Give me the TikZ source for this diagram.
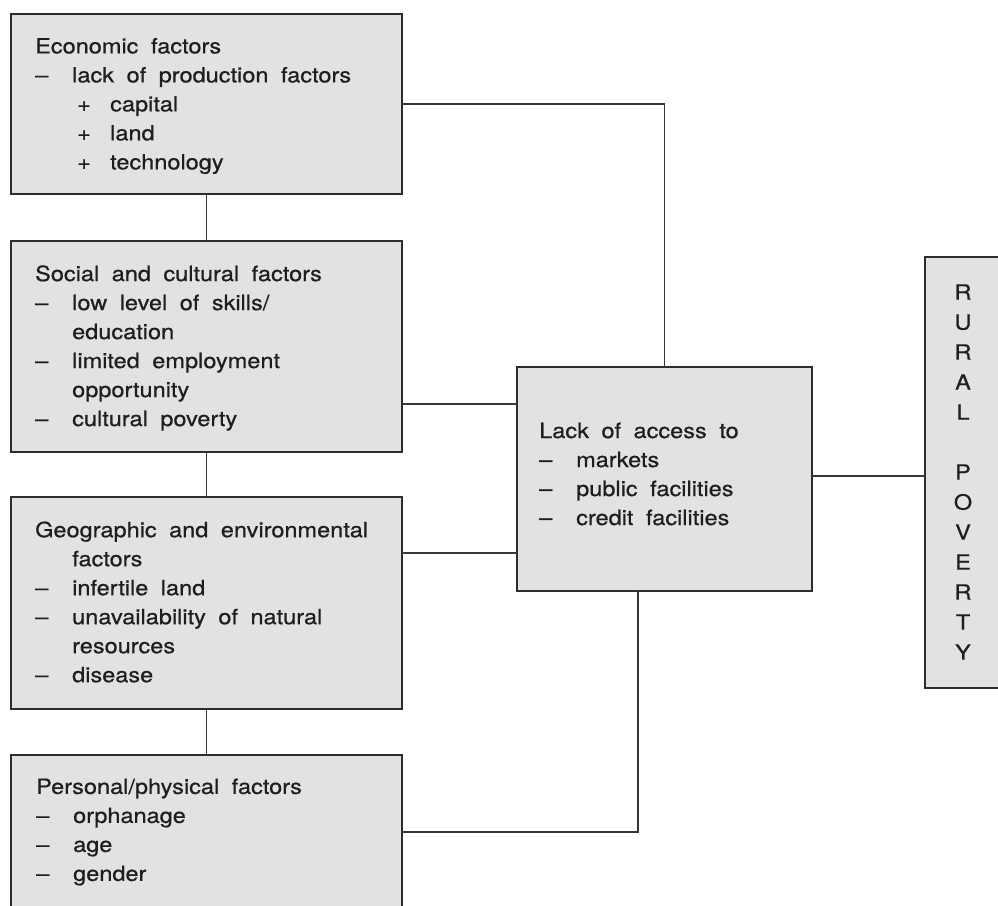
\documentclass[tikz,border=0pt]{standalone}
\usepackage{fontspec}
\setmainfont{TeX Gyre Heros}[FakeStretch=1.12, FakeBold=0.6]
\definecolor{boxfill}{RGB}{226,226,226}
\definecolor{boxline}{RGB}{45,45,45}
\definecolor{conline}{RGB}{55,55,55}
\definecolor{txtcol}{RGB}{30,30,30}
\newcommand{\txtfont}{\fontsize{21}{29}\selectfont\spaceskip=12.5pt plus 2pt minus 1pt\relax}
\newcommand{\ruralfont}{\fontsize{21}{30}\selectfont}
\newcommand{\dashitem}{\makebox[37pt][l]{–}}
\newcommand{\plusitem}{\hspace*{42pt}\makebox[33pt][l]{+}}
\newcommand{\contind}{\hspace*{37pt}}
\begin{document}
\begin{tikzpicture}[x=1pt,y=-1pt,
  boxnode/.style={draw=boxline, fill=boxfill, line width=1.6pt, inner sep=0pt, outer sep=0pt, anchor=center},
  txt/.style={font=\txtfont, align=left, inner sep=0pt, anchor=west, text=txtcol},
  con/.style={draw=conline, line width=1.1pt}]
\useasboundingbox (0,0) rectangle (998,905);

% boxes
\node[boxnode, minimum width=391pt, minimum height=180pt] (econ) at (206.5,104) {};
\node[boxnode, minimum width=391pt, minimum height=211pt] (social) at (206.5,346.5) {};
\node[boxnode, minimum width=391pt, minimum height=212pt] (geo) at (206.5,603) {};
\node[boxnode, minimum width=391pt, minimum height=154pt] (pers) at (206.5,832) {};
\node[boxnode, minimum width=295pt, minimum height=224pt] (access) at (664.5,479) {};
\node[boxnode, minimum width=85pt, minimum height=431pt] (rural) at (967.5,472.5) {};

% texts
\node[txt] (econT) at (35,106) {Economic factors\\
\dashitem lack of production factors\\
\plusitem capital\\
\plusitem land\\
\plusitem technology};

\node[txt] (socialT) at (35,348) {Social and cultural factors\\
\dashitem low level of skills/\\
\contind education\\
\dashitem limited employment\\
\contind opportunity\\
\dashitem cultural poverty};

\node[txt] (geoT) at (35,602) {Geographic and environmental\\
\contind factors\\
\dashitem infertile land\\
\dashitem unavailability of natural\\
\contind resources\\
\dashitem disease};

\node[txt] (persT) at (36,832) {Personal/physical factors\\
\dashitem orphanage\\
\dashitem age\\
\dashitem gender};

\node[txt] (accessT) at (539,474) {Lack of access to\\
\dashitem markets\\
\dashitem public facilities\\
\dashitem credit facilities};

\node[font=\ruralfont, align=center, inner sep=0pt, text=txtcol] (ruralT) at (963,472)
  {R\\U\\R\\A\\L\\[30pt]P\\O\\V\\E\\R\\T\\Y};

% helper coordinates
\coordinate (y404) at (0,404);
\coordinate (y553) at (0,553);
\coordinate (y476) at (0,476);
\coordinate (x638) at (638,0);

% connectors
\draw[con] (econ.east) -| (access.north);
\draw[con] (econ.south) -- (social.north);
\draw[con] (social.south) -- (geo.north);
\draw[con] (geo.south) -- (pers.north);
\draw[con] (social.east |- y404) -- (access.west |- y404);
\draw[con] (geo.east |- y553) -- (access.west |- y553);
\draw[con] (access.south -| x638) |- (pers.east);
\draw[con] (access.east |- y476) -- (rural.west |- y476);
\end{tikzpicture}
\end{document}
